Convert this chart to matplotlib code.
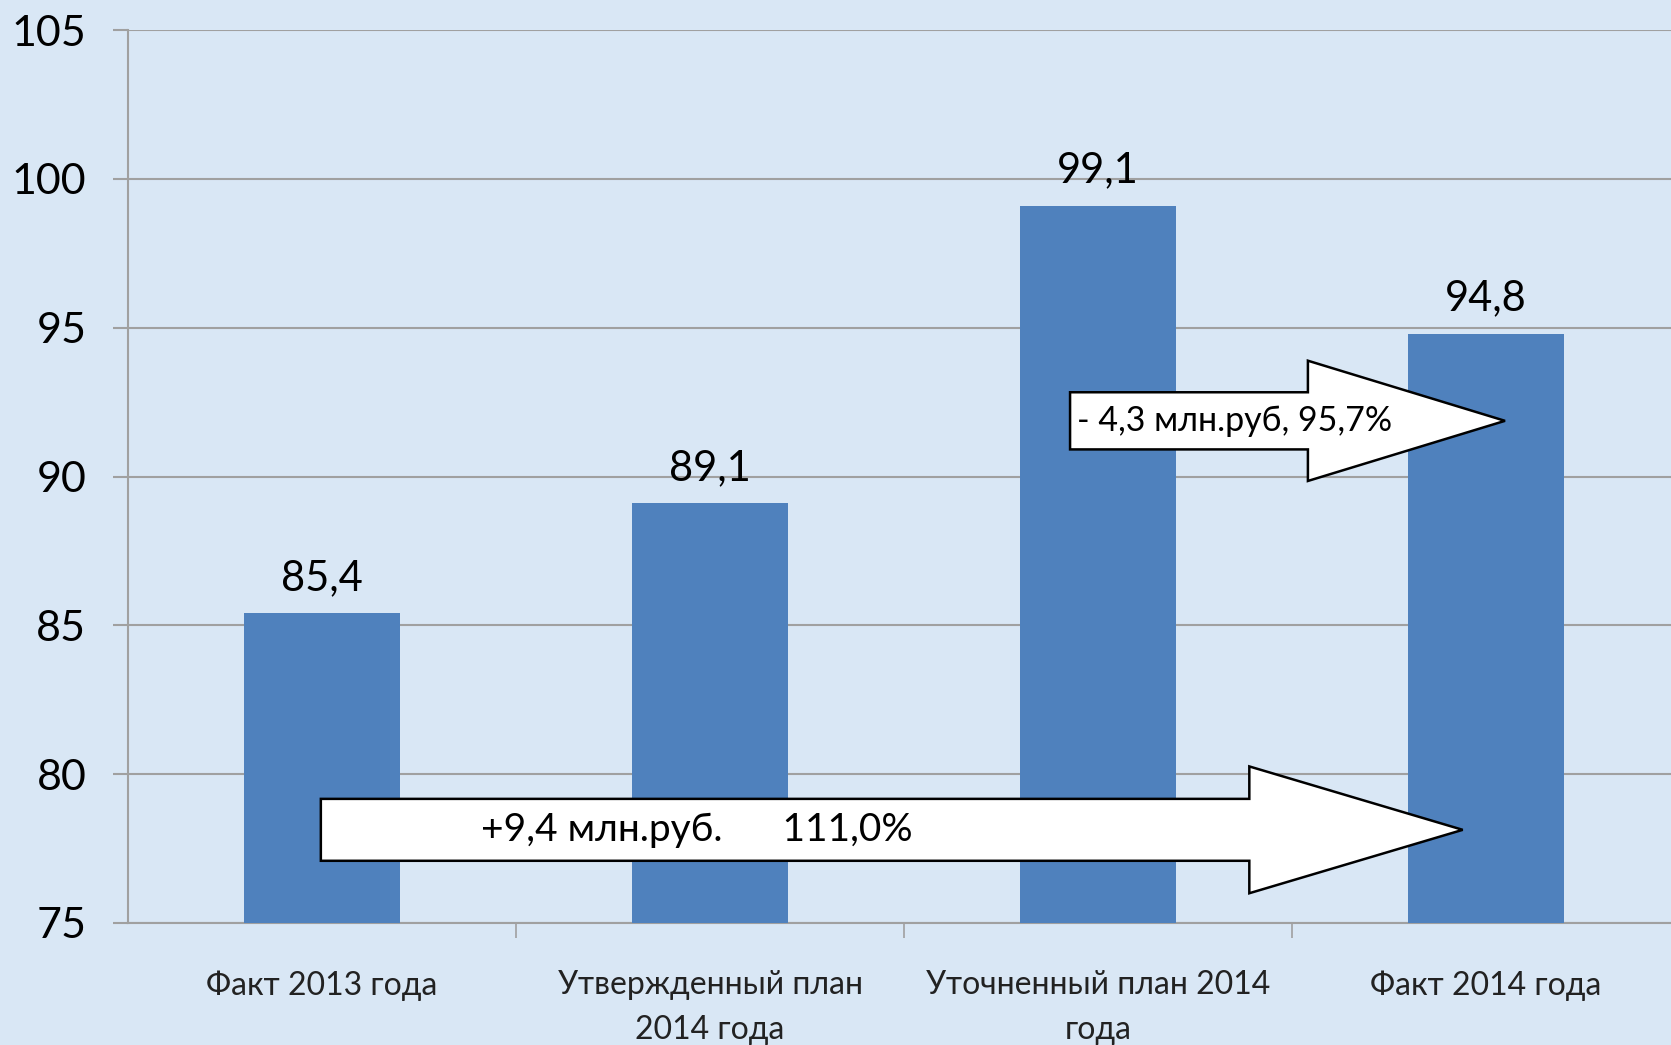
import matplotlib
matplotlib.use("Agg")
import matplotlib.pyplot as plt
from matplotlib.patches import Polygon
import numpy as np

categories = ["Факт 2013 года", "Утвержденный план\n2014 года", "Уточненный план 2014\nгода", "Факт 2014 года"]
values = [85.4, 89.1, 99.1, 94.8]
value_labels = ["85,4", "89,1", "99,1", "94,8"]
yticks = [75, 80, 85, 90, 95, 100, 105]
arrow1_text = "+9,4 млн.руб.      111,0%"
arrow2_text = "- 4,3 млн.руб, 95,7%"

plt.rcParams['font.family'] = ['Lato', 'Open Sans', 'DejaVu Sans']

W, H = 1671, 1045
fig = plt.figure(figsize=(W / 100, H / 100), dpi=100)
bg = '#d9e7f5'
fig.patch.set_facecolor(bg)
ax = fig.add_axes([128 / W, 122 / H, 1552 / W, (1015 - 122) / H])
ax.set_facecolor(bg)

x = np.arange(len(categories))
ax.bar(x, values, width=0.4, color='#4f81bd', zorder=3)
ax.set_xlim(-0.5, len(categories) - 0.5)
ax.set_ylim(75, 105)
ax.set_yticks(yticks)
ax.set_yticklabels([str(v) for v in yticks], fontsize=31)
ax.yaxis.grid(True, color='#a0a0a0', linewidth=1.5, zorder=0)
ax.tick_params(axis='y', length=11, width=1.5, color='#a0a0a0', pad=19)

ax.set_xticks(x)
ax.set_xticklabels(categories, fontsize=23, linespacing=1.6, color='#222222')
ax.tick_params(axis='x', which='major', length=0, pad=34)
ax.set_xticks(np.arange(0.5, len(categories) - 0.5, 1.0), minor=True)
ax.tick_params(axis='x', which='minor', length=11, width=1.2, color='#a0a0a0')

for s in ['top', 'right']:
    ax.spines[s].set_visible(False)
for s in ['left', 'bottom']:
    ax.spines[s].set_color('#a0a0a0')
    ax.spines[s].set_linewidth(1.5)

for xi, v, lab in zip(x, values, value_labels):
    ax.text(xi, v + 0.55, lab, ha='center', va='bottom', fontsize=30, zorder=4)

def block_arrow(x0, x1, xt, yc, hs, hh):
    pts = [(x0, yc - hs), (x1, yc - hs), (x1, yc - hh), (xt, yc),
           (x1, yc + hh), (x1, yc + hs), (x0, yc + hs)]
    ax.add_patch(Polygon(pts, closed=True, facecolor='white', edgecolor='black',
                         linewidth=1.8, zorder=5))

# bottom arrow: from first bar to last bar
block_arrow(x[0] - 0.003, 2.39, 2.94, 78.13, 1.04, 2.13)
ax.text(0.41, 78.13, arrow1_text, ha='left', va='center', fontsize=28, zorder=6)

# upper arrow: from third bar to fourth bar
block_arrow(1.928, 2.541, 3.049, 91.87, 0.96, 2.02)
ax.text(1.945, 91.87, arrow2_text, ha='left', va='center', fontsize=24.5, zorder=6)

fig.savefig('out.png', dpi=100, facecolor=bg)
